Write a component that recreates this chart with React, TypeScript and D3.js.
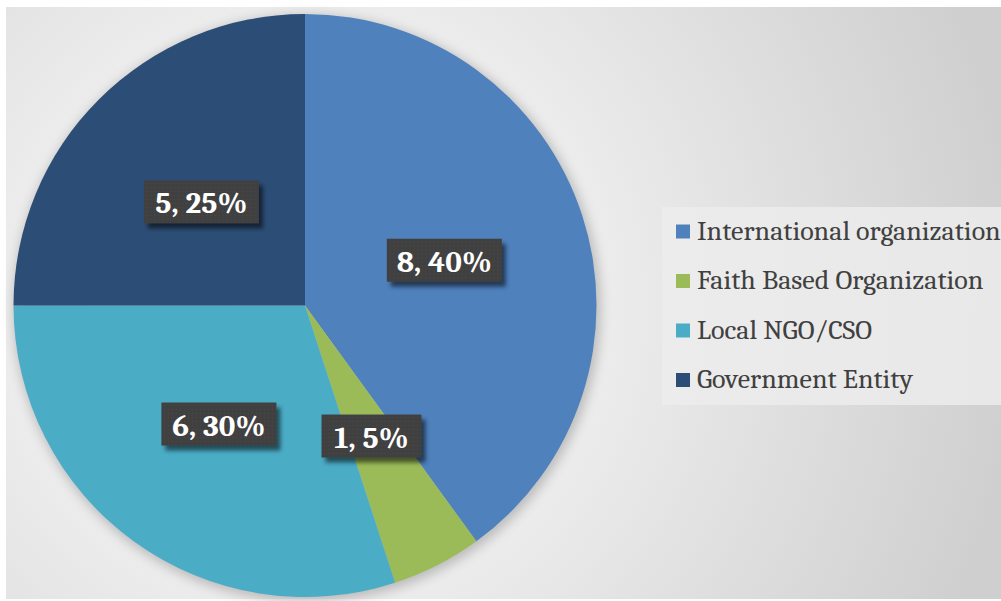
import React from "react";
import * as d3 from "d3";

const categories = ["International organization", "Faith Based Organization", "Local NGO/CSO", "Government Entity"];
const counts = [8, 1, 6, 5];
const percents = [40, 5, 30, 25];
const colors = ["#4F81BD", "#9BBB59", "#4BACC6", "#2C4D75"];

export default function App() {
  const W = 1001, H = 601;
  const cx = 305, cy = 305.5, R = 291.5;
  const pie = d3.pie<number>().value(d => d).sort(null)(counts);
  const arc = d3.arc<d3.PieArcDatum<number>>().innerRadius(0).outerRadius(R);
  const labelArc = d3.arc<d3.PieArcDatum<number>>().innerRadius(0).outerRadius(293);
  const legendY = d3.scalePoint<string>().domain(categories).range([231.5, 380]);
  const font = "Cambria, Caladea, 'DejaVu Serif', serif";
  return (
    <svg width={W} height={H} style={{ position: "absolute", left: 0, top: 0, display: "block" }}>
      <defs>
        <radialGradient id="bg" cx="305" cy="305" r="720" gradientUnits="userSpaceOnUse">
          <stop offset="0" stopColor="#ffffff" />
          <stop offset="0.42" stopColor="#ececec" />
          <stop offset="1" stopColor="#cfcfcf" />
        </radialGradient>
        <filter id="sh" x="-20%" y="-20%" width="140%" height="140%">
          <feGaussianBlur stdDeviation="6" />
        </filter>
        <filter id="lsh" x="-20%" y="-30%" width="150%" height="170%">
          <feGaussianBlur stdDeviation="2" />
        </filter>
        <pattern id="dots" width="4" height="4" patternUnits="userSpaceOnUse">
          <rect width="4" height="4" fill="#404040" />
          <rect x="1" y="1" width="1" height="1" fill="#4a4a4a" />
        </pattern>
      </defs>
      <rect x={0} y={0} width={W} height={H} fill="#ffffff" />
      <rect x={6} y={7} width={W - 6} height={592} fill="url(#bg)" />
      <circle cx={cx + 2} cy={cy + 3} r={R + 2} fill="#909090" opacity={0.55} filter="url(#sh)" />
      <g transform={`translate(${cx},${cy})`}>
        {pie.map((d, i) => (
          <path key={i} d={arc(d) || ""} fill={colors[i]} />
        ))}
        {pie.map((d, i) => {
          const [x, y] = labelArc.centroid(d);
          const label = `${counts[i]}, ${percents[i]}%`;
          const w = label.length * 15 + 25;
          const h = 43;
          return (
            <g key={"l" + i} transform={`translate(${x},${y})`}>
              <rect x={-w / 2 + 4} y={-h / 2 + 5} width={w} height={h} fill="#000" opacity={0.55} filter="url(#lsh)" />
              <rect x={-w / 2} y={-h / 2} width={w} height={h} fill="url(#dots)" />
              <text x={0} y={11.5} textAnchor="middle" fill="#ffffff" fontFamily={font} fontWeight="bold" fontSize={31}>
                {label}
              </text>
            </g>
          );
        })}
      </g>
      <rect x={662} y={207} width={339} height={198} fill="#ececec" opacity={0.85} />
      {categories.map((c, i) => {
        const y = legendY(c) as number;
        return (
          <g key={c}>
            <rect x={676} y={y - 7} width={14} height={14} fill={colors[i]} />
            <text x={697} y={y + 8} fill="#404040" fontFamily={font} fontSize={28}>{c}</text>
          </g>
        );
      })}
    </svg>
  );
}
